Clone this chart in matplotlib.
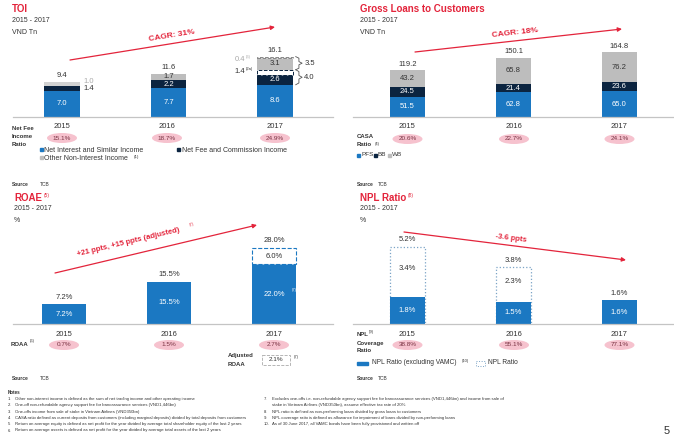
import matplotlib
matplotlib.use('Agg')
import matplotlib.pyplot as plt
from matplotlib.patches import Ellipse, Rectangle
import numpy as np

plt.rcParams['font.family'] = ['Liberation Sans', 'DejaVu Sans']

W, H = 674, 441
years = ['2015', '2016', '2017']

# TOI, VND Tn
toi_nii = [7.0, 7.7, 8.6]
toi_fee = [1.4, 2.2, 2.6]
toi_fee_oneoff = [0.0, 0.0, 1.4]
toi_other = [1.0, 1.7, 3.1]
toi_other_oneoff = [0.0, 0.0, 0.4]
toi_total = [9.4, 11.6, 16.1]
fee_income_ratio = ['15.1%', '18.7%', '24.9%']

# Gross loans to customers, VND Tn
loans_pfs = [51.5, 62.8, 65.0]
loans_bb = [24.5, 21.4, 23.6]
loans_wb = [43.2, 65.8, 76.2]
loans_total = [119.2, 150.1, 164.8]
casa_ratio = ['20.6%', '22.7%', '24.1%']

# ROAE, %
roae = [7.2, 15.5, 22.0]
roae_oneoff = [0.0, 0.0, 6.0]
roae_total = [7.2, 15.5, 28.0]
roaa = ['0.7%', '1.5%', '2.7%']
adj_roaa = '2.1%'

# NPL ratio, %
npl_ex_vamc = [1.8, 1.5, 1.6]
npl_vamc = [3.4, 2.3, 0.0]
npl_total = [5.2, 3.8, 1.6]
npl_coverage = ['38.8%', '55.1%', '77.1%']

BLUE = '#1b78c2'
NAVY = '#0b2440'
GRAY = '#bdbdbd'
LGRAY = '#d2d2d2'
RED = '#e3243b'
PINK = '#f6c2ce'
TXT = '#333333'
BASE = '#c4c4c4'

fig = plt.figure(figsize=(W / 100, H / 100), dpi=100)
fig.patch.set_facecolor('white')


def axes_px(x0, y0, x1, y1):
    ax = fig.add_axes([x0 / W, 1 - y1 / H, (x1 - x0) / W, (y1 - y0) / H])
    ax.axis('off')
    return ax


# overlay in pixel units for titles, notes and annotations
ov = fig.add_axes([0, 0, 1, 1], zorder=10)
ov.set_xlim(0, W)
ov.set_ylim(H, 0)
ov.axis('off')
ov.patch.set_visible(False)


def t(x, y, s, size=5, color=TXT, **kw):
    kw.setdefault('va', 'center')
    return ov.text(x, y, s, fontsize=size, color=color, **kw)


def header(x, y, title, sup, unit):
    txt = t(x, y, title, 7, color=RED, fontweight='bold')
    if sup:
        fig.canvas.draw()
        bb = txt.get_window_extent()
        t(x + bb.width + 1.5, y - 2, sup, 3.5, color=RED)
    t(x, y + 11, '2015 - 2017', 5)
    t(x, y + 23, unit, 5)


def pills(centers, y, labels):
    for cx, lab in zip(centers, labels):
        ov.add_patch(Ellipse((cx, y), 30, 10, facecolor=PINK, edgecolor='none'))
        t(cx, y, lab, 4.6, color='#7a3444', ha='center')


def arrow(p0, p1, label, lx, ly, rot, size=6):
    ov.annotate('', xy=p1, xytext=p0,
                arrowprops=dict(arrowstyle='-|>', color=RED, lw=0.9,
                                mutation_scale=6, shrinkA=0, shrinkB=0))
    t(lx, ly, label, size, color=RED, ha='center', fontweight='bold', rotation=rot)


def brace(ax, x, y0, y1, d):
    mid = (y0 + y1) / 2
    e = (y1 - y0) * 0.12
    xs = [x, x + d, x + d, x + 2 * d, x + d, x + d, x]
    ys = [y1, y1 - e, mid + e, mid, mid - e, y0 + e, y0]
    ax.plot(xs, ys, color='#555555', lw=0.6, clip_on=False)


x = np.arange(3)

# ---------------- TOI ----------------
header(12, 9, 'TOI', None, 'VND Tn')
ax1 = axes_px(13, 40, 333, 117)
ax1.set_xlim(-0.46, 2.545)
ax1.set_ylim(0, 77 / 3.75)
w1 = 0.33
nii = np.array(toi_nii)
fee = np.array(toi_fee)
fee1 = np.array(toi_fee_oneoff)
oth = np.array(toi_other)
oth1 = np.array(toi_other_oneoff)
ax1.bar(x, nii, w1, color=BLUE)
ax1.bar(x, fee, w1, bottom=nii, color=NAVY)
m = fee1 > 0
ax1.bar(x[m], fee1[m], w1, bottom=(nii + fee)[m], facecolor='white',
        edgecolor=NAVY, linestyle='--', lw=0.7)
ax1.bar(x, oth, w1, bottom=nii + fee + fee1, color=[LGRAY, GRAY, GRAY])
m = oth1 > 0
ax1.bar(x[m], oth1[m], w1, bottom=(nii + fee + fee1 + oth)[m], facecolor='white',
        edgecolor='#888888', linestyle='--', lw=0.7)
ax1.axhline(0, color=BASE, lw=0.9, clip_on=False)
for i in range(3):
    ax1.text(i, nii[i] / 2, f'{nii[i]:.1f}', color='white', ha='center', va='center', fontsize=5.5)
    ax1.text(i, toi_total[i] + 1.6, f'{toi_total[i]:.1f}', color=TXT, ha='center', va='center', fontsize=5.5)
# 2015 small segments labelled at the side
ax1.text(w1 / 2 + 0.04, nii[0] + fee[0] / 2, f'{fee[0]:.1f}', color=TXT, va='center', fontsize=5.5)
ax1.text(w1 / 2 + 0.04, nii[0] + fee[0] + oth[0] / 2 + 0.6, f'{oth[0]:.1f}', color='#aaaaaa',
         va='center', fontsize=5.5)
for i in (1, 2):
    ax1.text(i, nii[i] + fee[i] / 2, f'{fee[i]:.1f}', color='white', ha='center', va='center', fontsize=5.5)
    ax1.text(i, nii[i] + fee[i] + fee1[i] + oth[i] / 2, f'{oth[i]:.1f}', color=TXT, ha='center',
             va='center', fontsize=5.5)
# one-off segments of 2017, labelled on the left with their note markers
lx = 2 - w1 / 2 - 0.115
ax1.text(lx, nii[2] + fee[2] + fee1[2] / 2 + 0.3, f'{fee1[2]:.1f}', color=TXT,
         ha='right', va='center', fontsize=5.5)
ax1.text(lx, toi_total[2] - oth1[2] / 2 - 0.6, f'{oth1[2]:.1f}', color='#aaaaaa',
         ha='right', va='center', fontsize=5.5)
ax1.text(lx + 0.005, nii[2] + fee[2] + fee1[2] / 2 + 0.9, '(2a)', color=TXT, ha='left', va='center', fontsize=3)
ax1.text(lx + 0.005, toi_total[2] - oth1[2] / 2 + 0.1, '(3)', color='#aaaaaa', ha='left', va='center', fontsize=3)
bx = 2 + w1 / 2 + 0.03
brace(ax1, bx, nii[2], nii[2] + fee[2] + fee1[2], 0.03)
brace(ax1, bx, nii[2] + fee[2] + fee1[2], toi_total[2], 0.03)
ax1.text(bx + 0.08, nii[2] + (fee[2] + fee1[2]) / 2, f'{fee[2] + fee1[2]:.1f}', color=TXT,
         va='center', fontsize=5.5)
ax1.text(bx + 0.08, nii[2] + fee[2] + fee1[2] + (oth[2] + oth1[2]) / 2, f'{oth[2] + oth1[2]:.1f}',
         color=TXT, va='center', fontsize=5.5)

toi_c = [62, 167, 275]
for cx, yr in zip(toi_c, years):
    t(cx, 127, yr, 5.5, ha='center')
pills(toi_c, 138, fee_income_ratio)
t(12, 129, 'Net Fee', 4.3, fontweight='bold')
t(12, 137, 'Income', 4.3, fontweight='bold')
t(12, 145, 'Ratio', 4.3, fontweight='bold')
ov.add_patch(Rectangle((40, 148), 3, 3, color=BLUE))
t(44.5, 150, 'Net Interest and Similar Income', 5)
ov.add_patch(Rectangle((177, 148), 3, 3, color=NAVY))
t(181.5, 150, 'Net Fee and Commission Income', 5)
ov.add_patch(Rectangle((40, 156), 3, 3, color=GRAY))
t(44.5, 158, 'Other Non-Interest Income', 5)
t(134, 157, '(1)', 3.2)
arrow((70, 60), (275, 27), 'CAGR: 31%', 172, 36, 9.3)
t(12, 185, 'Source', 3.5, fontweight='bold')
t(40, 185, 'TCB', 3.5)

# ---------------- Gross loans ----------------
header(360, 9, 'Gross Loans to Customers', None, 'VND Tn')
ax2 = axes_px(353, 40, 673, 117)
ax2.set_xlim(-0.514, 2.505)
ax2.set_ylim(0, 77 / 0.394)
w2 = 0.33
pfs = np.array(loans_pfs)
bb = np.array(loans_bb)
wb = np.array(loans_wb)
ax2.bar(x, pfs, w2, color=BLUE)
ax2.bar(x, bb, w2, bottom=pfs, color=NAVY)
ax2.bar(x, wb, w2, bottom=pfs + bb, color=GRAY)
ax2.axhline(0, color=BASE, lw=0.9, clip_on=False)
for i in range(3):
    ax2.text(i, pfs[i] / 2, f'{pfs[i]:.1f}', color='white', ha='center', va='center', fontsize=5.5)
    ax2.text(i, pfs[i] + bb[i] / 2, f'{bb[i]:.1f}', color='white', ha='center', va='center', fontsize=5.5)
    ax2.text(i, pfs[i] + bb[i] + wb[i] / 2, f'{wb[i]:.1f}', color=TXT, ha='center', va='center', fontsize=5.5)
    ax2.text(i, loans_total[i] + 15, f'{loans_total[i]:.1f}', color=TXT, ha='center', va='center', fontsize=5.5)
gl_c = [407.5, 514, 619.5]
for cx, yr in zip(gl_c, years):
    t(cx, 127, yr, 5.5, ha='center')
pills(gl_c, 139, casa_ratio)
t(357, 136, 'CASA', 4.3, fontweight='bold')
t(357, 144, 'Ratio', 4.3, fontweight='bold')
t(375, 144, '(4)', 3)
ov.add_patch(Rectangle((357, 153.5), 3, 3, color=BLUE))
t(361, 155, 'PFS', 4.6)
ov.add_patch(Rectangle((374, 153.5), 3, 3, color=NAVY))
t(378, 155, 'BB', 4.6)
ov.add_patch(Rectangle((388, 153.5), 3, 3, color=GRAY))
t(392, 155, 'WB', 4.6)
arrow((415, 52), (622, 29), 'CAGR: 18%', 515, 33, 6.3)
t(357, 185, 'Source', 3.5, fontweight='bold')
t(378, 185, 'TCB', 3.5)

# ---------------- ROAE ----------------
header(14, 198, 'ROAE', '(5)', '%')
ax3 = axes_px(13, 230, 333, 324)
ax3.set_xlim(-0.486, 2.56)
ax3.set_ylim(0, 94 / 2.72)
w3 = 0.42
r = np.array(roae)
r1 = np.array(roae_oneoff)
ax3.bar(x, r, w3, color=BLUE)
m = r1 > 0
ax3.bar(x[m], r1[m], w3, bottom=r[m], facecolor='white', edgecolor=BLUE, linestyle='--', lw=0.8)
ax3.axhline(0, color=BASE, lw=0.9, clip_on=False)
for i in range(3):
    ax3.text(i, r[i] / 2, f'{r[i]:.1f}%', color='white', ha='center', va='center', fontsize=5.5)
    ax3.text(i, roae_total[i] + 2.6, f'{roae_total[i]:.1f}%', color=TXT, ha='center', va='center', fontsize=5.5)
ax3.text(2, r[2] + r1[2] / 2, f'{r1[2]:.1f}%', color=TXT, ha='center', va='center', fontsize=5.5)
t(292, 290, '(7)', 3, color='white')
ro_c = [64, 169, 274]
for cx, yr in zip(ro_c, years):
    t(cx, 334, yr, 5.5, ha='center')
pills(ro_c, 345, roaa)
t(11, 345, 'ROAA', 4.3, fontweight='bold')
t(30, 341, '(6)', 3)
t(228, 356, 'Adjusted', 4.3, fontweight='bold')
t(228, 364, 'ROAA', 4.3, fontweight='bold')
ov.add_patch(Rectangle((262, 354.5), 28, 10, facecolor='white', edgecolor='#aaaaaa', lw=0.6, ls='--'))
t(276, 359.5, adj_roaa, 4.6, ha='center')
t(294, 357, '(7)', 3)
arrow((55, 273), (257, 225), '+21 ppts, +15 ppts (adjusted)', 128, 242, 13.5, size=5.5)
t(189, 224, '(7)', 3, color=RED, rotation=13.5)
t(12, 378, 'Source', 3.5, fontweight='bold')
t(40, 378, 'TCB', 3.5)

# ---------------- NPL ----------------
header(360, 198, 'NPL Ratio', '(8)', '%')
ax4 = axes_px(353, 230, 673, 324)
ax4.set_xlim(-0.514, 2.505)
ax4.set_ylim(0, 94 / 14.9)
w4 = 0.33
nx = np.array(npl_ex_vamc)
nv = np.array(npl_vamc)
nt = np.array(npl_total)
m = nv > 0
ax4.bar(x[m], nt[m], w4, facecolor='white', edgecolor='#7aa3c6', linestyle=':', lw=0.9)
ax4.bar(x, nx, w4, color=BLUE)
ax4.axhline(0, color=BASE, lw=0.9, clip_on=False)
for i in range(3):
    ax4.text(i, nx[i] / 2, f'{nx[i]:.1f}%', color='white', ha='center', va='center', fontsize=5.5)
    ax4.text(i, nt[i] + 0.45, f'{nt[i]:.1f}%', color=TXT, ha='center', va='center', fontsize=5.5)
    if nv[i] > 0:
        ax4.text(i, nx[i] + nv[i] / 2 + 0.2, f'{nv[i]:.1f}%', color=TXT, ha='center', va='center', fontsize=5.5)
npl_c = [407.5, 514, 619.5]
for cx, yr in zip(npl_c, years):
    t(cx, 334, yr, 5.5, ha='center')
pills(npl_c, 345, npl_coverage)
t(357, 335, 'NPL', 4.3, fontweight='bold')
t(369, 332, '(9)', 3)
t(357, 343, 'Coverage', 4.3, fontweight='bold')
t(357, 351, 'Ratio', 4.3, fontweight='bold')
ov.add_patch(Rectangle((357, 361.5), 11, 3, color=BLUE))
t(372, 363, 'NPL Ratio (excluding VAMC)', 4.8)
t(462, 361, '(10)', 3)
ov.add_patch(Rectangle((476, 360.5), 9, 5, facecolor='white', edgecolor='#7aa3c6', ls=':', lw=0.7))
t(488, 363, 'NPL Ratio', 4.8)
arrow((404, 232), (626, 260), '-3.6 ppts', 511, 238, -7, size=5.5)
t(357, 378, 'Source', 3.5, fontweight='bold')
t(378, 378, 'TCB', 3.5)

# ---------------- Notes ----------------
t(8, 393, 'Notes', 3.3, fontweight='bold')
notes_left = [
    'Other non-interest income is defined as the sum of net trading income and other operating income',
    'One-off non-refundable agency support fee for bancassurance services (VND1,446bn)',
    'One-offs income from sale of stake in Vietnam Airlines (VND350bn)',
    'CASA ratio defined as current deposits from customers (including marginal deposits) divided by total deposits from customers',
    'Return on average equity is defined as net profit for the year divided by average total shareholder equity of the last 2 years',
    'Return on average assets is defined as net profit for the year divided by average total assets of the last 2 years',
]
for k, s in enumerate(notes_left):
    y = 399 + k * 6.3
    t(8, y, f'{k + 1}.', 3.1)
    t(15, y, s, 3.1)
notes_right = [
    ('7.', 'Excludes one-offs i.e. non-refundable agency support fee for bancassurance services (VND1,446bn) and income from sale of'),
    ('', 'stake in Vietnam Airlines (VND350bn), assume effective tax rate of 20%'),
    ('8.', 'NPL ratio is defined as non-performing loans divided by gross loans to customers'),
    ('9.', 'NPL coverage ratio is defined as allowance for impairment of loans divided by non-performing loans'),
    ('10.', 'As of 30 June 2017, all VAMC bonds have been fully provisioned and written off'),
]
for k, (n, s) in enumerate(notes_right):
    y = 399 + k * 6.3
    t(264, y, n, 3.1)
    t(272, y, s, 3.1)
t(667, 431, '5', 8, ha='center')

fig.savefig('out.png', dpi=100, facecolor='white')
